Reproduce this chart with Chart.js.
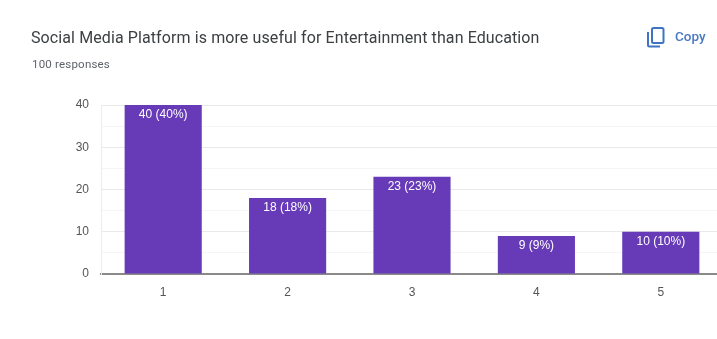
<!DOCTYPE html>
<html>
<head>
<meta charset="utf-8">
<script src="https://cdn.jsdelivr.net/npm/chart.js@4"></script>
<style>
    html, body { margin: 0; padding: 0; width: 717px; height: 339px; overflow: hidden; background: #fff; }
    #grafico { position: absolute; left: 0; top: 0; }
    .titulo { position: absolute; left: 31px; top: 28px; font: 400 16px Roboto, sans-serif; color: #3c4043; white-space: nowrap; letter-spacing: 0.1px; }
    .respostas { position: absolute; left: 32px; top: 57px; font: 400 11.5px Roboto, sans-serif; color: #5f6368; white-space: nowrap; letter-spacing: 0.2px; }
    .copiar { position: absolute; left: 675px; top: 28px; font: 500 13.5px Roboto, sans-serif; color: #4a78c2; white-space: nowrap; }
    .icone { position: absolute; left: 646px; top: 26px; }
</style>
</head>
<body>
<canvas id="grafico" width="730" height="339"></canvas>
<div class="titulo">Social Media Platform is more useful for Entertainment than Education</div>
<div class="respostas">100 responses</div>
<svg class="icone" width="20" height="22" viewBox="0 0 20 22" fill="none" stroke="#3f74c4" stroke-width="2">
    <rect x="6" y="2" width="11.5" height="15" rx="1.5"/>
    <path d="M2 6v13a1.5 1.5 0 0 0 1.5 1.5H14"/>
</svg>
<div class="copiar">Copy</div>
<script>
const listaCategorias = ['1', '2', '3', '4', '5'];
const listaValores = [40, 18, 23, 9, 10];
const listaPercentuais = [40, 18, 23, 9, 10];

const fonteEixo = { family: '"Liberation Sans", Arial, sans-serif', size: 12 };

// escreve "n (p%)" dentro do topo de cada barra
const rotulosBarras = {
    id: 'rotulosBarras',
    afterDatasetsDraw(chart) {
        const ctx = chart.ctx;
        ctx.save();
        ctx.fillStyle = '#ffffff';
        ctx.font = '12px "Liberation Sans", Arial, sans-serif';
        ctx.textAlign = 'center';
        ctx.textBaseline = 'middle';
        chart.getDatasetMeta(0).data.forEach((barra, i) => {
            ctx.fillText(listaValores[i] + ' (' + listaPercentuais[i] + '%)', barra.x, barra.y + 10);
        });
        ctx.restore();
    }
};

new Chart(document.getElementById('grafico').getContext('2d'), {
    type: 'bar',
    data: {
        labels: listaCategorias,
        datasets: [
            {
                data: listaValores,
                backgroundColor: '#673ab7',
                borderWidth: 0,
                categoryPercentage: 1,
                barPercentage: 0.62
            }
        ]
    },
    options: {
        responsive: false,
        animation: false,
        layout: { padding: { top: 105, right: 7, left: 0, bottom: 0 } },
        plugins: {
            legend: { display: false },
            tooltip: { enabled: false }
        },
        scales: {
            x: {
                grid: { display: false },
                border: { color: '#8a8a8a', width: 2 },
                ticks: { color: '#555555', font: fonteEixo, padding: 3 },
                afterFit(eixo) { eixo.height = 65; }
            },
            y: {
                min: 0,
                max: 40,
                grid: {
                    drawTicks: false,
                    color: (c) => (c.tick.value % 10 === 0 ? '#e9e9e9' : '#f5f5f5')
                },
                border: { color: '#ececec' },
                ticks: {
                    stepSize: 5,
                    color: '#555555',
                    font: fonteEixo,
                    padding: 12,
                    callback: (valor) => (valor % 10 === 0 ? valor : '')
                },
                afterFit(eixo) { eixo.width = 101; }
            }
        }
    },
    plugins: [rotulosBarras]
});
</script>
</body>
</html>
